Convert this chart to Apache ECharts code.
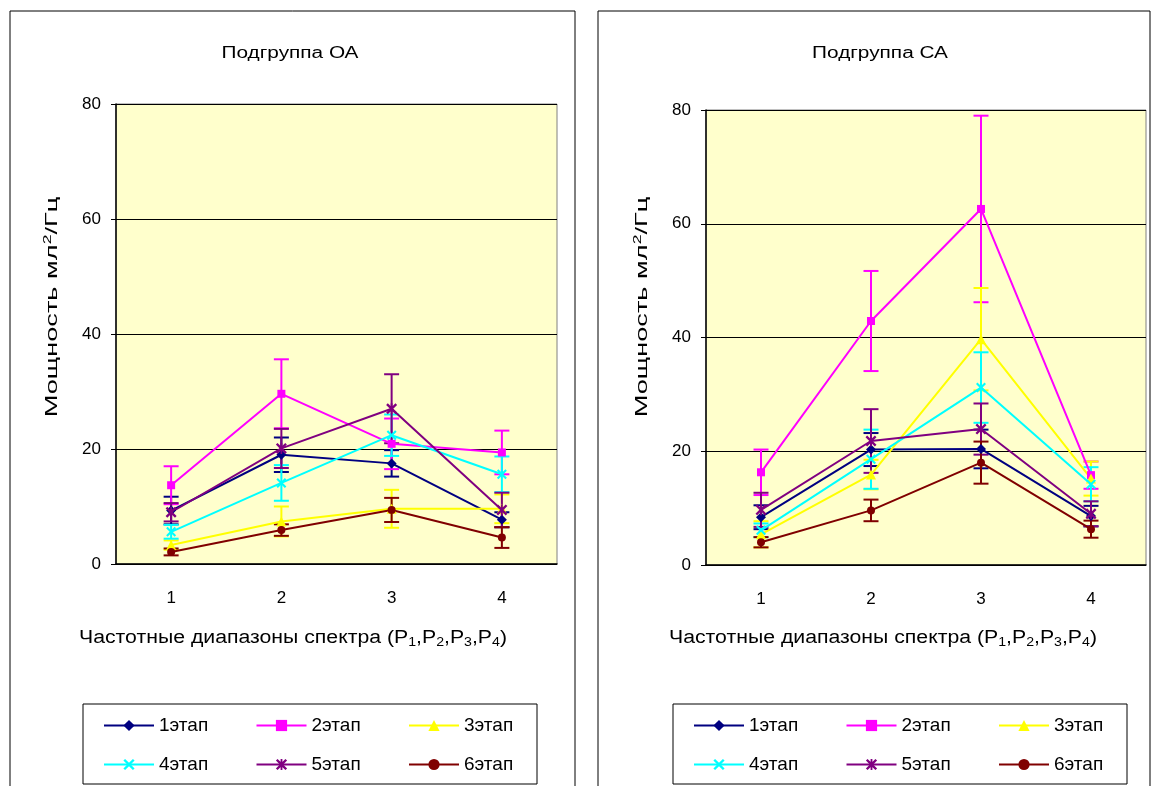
<!DOCTYPE html>
<html>
<head>
<meta charset="utf-8">
<script src="https://cdn.jsdelivr.net/npm/echarts@6/dist/echarts.min.js"></script>
<style>
  html, body { margin: 0; padding: 0; background: #fff; }
  #chart { width: 1155px; height: 786px; }
</style>
</head>
<body>
<div id="chart"></div>
<script>
// Frequency bands of the spectrum (P1..P4)
const categories = ['1', '2', '3', '4'];
const stageNames = ['1этап', '2этап', '3этап', '4этап', '5этап', '6этап'];
const yTicks = [0, 20, 40, 60, 80];

// Subgroup OA: mean power per band and its error
const oaMean1 = [9.3, 19.0, 17.5, 7.7];
const oaErr1  = [2.4, 3.0, 2.3, 1.3];
const oaMean2 = [13.7, 29.6, 20.9, 19.4];
const oaErr2  = [3.3, 6.0, 4.4, 3.8];
const oaMean3 = [3.3, 7.4, 9.6, 9.6];
const oaErr3  = [0.8, 2.6, 3.3, 2.5];
const oaMean4 = [5.6, 14.1, 22.4, 15.6];
const oaErr4  = [1.2, 3.1, 3.6, 3.1];
const oaMean5 = [9.0, 20.1, 27.0, 9.4];
const oaErr5  = [1.6, 3.4, 6.0, 3.0];
const oaMean6 = [2.1, 5.9, 9.4, 4.6];
const oaErr6  = [0.6, 1.0, 2.1, 1.8];

// Subgroup CA: mean power per band and its error
const caMean1 = [8.4, 20.3, 20.4, 8.6];
const caErr1  = [2.1, 2.9, 3.4, 1.8];
const caMean2 = [16.3, 42.9, 62.6, 15.8];
const caErr2  = [4.0, 8.8, 16.4, 2.4];
const caMean3 = [5.4, 15.9, 39.7, 15.2];
const caErr3  = [2.3, 2.6, 9.0, 3.0];
const caMean4 = [6.1, 18.6, 31.2, 14.2];
const caErr4  = [1.2, 5.2, 6.2, 3.0];
const caMean5 = [9.7, 21.8, 23.9, 9.0];
const caErr5  = [3.0, 5.6, 4.5, 2.2];
const caMean6 = [4.0, 9.6, 18.0, 6.3];
const caErr6  = [0.9, 1.9, 3.7, 1.5];

const oaMeans = [oaMean1, oaMean2, oaMean3, oaMean4, oaMean5, oaMean6];
const oaErrs  = [oaErr1, oaErr2, oaErr3, oaErr4, oaErr5, oaErr6];
const caMeans = [caMean1, caMean2, caMean3, caMean4, caMean5, caMean6];
const caErrs  = [caErr1, caErr2, caErr3, caErr4, caErr5, caErr6];

const FONT = '"Liberation Sans", Arial, sans-serif';
const colors = ['#000080', '#FF00FF', '#FFFF00', '#00FFFF', '#800080', '#800000'];
const xMark = 'path://M0,0.15 L0.15,0 L0.5,0.35 L0.85,0 L1,0.15 L0.65,0.5 L1,0.85 L0.85,1 L0.5,0.65 L0.15,1 L0,0.85 L0.35,0.5 Z';
const starMark = xMark + ' M0.42,0 L0.58,0 L0.58,1 L0.42,1 Z';
const symbols = ['diamond', 'rect', 'triangle', xMark, starMark, 'circle'];
const symbolSizes = [10, 8, 10, 10, 11, 8];

const panels = [
  { title: 'Подгруппа ОА', means: oaMeans, errs: oaErrs, grid: { left: 116, top: 104, width: 441, height: 460 }, dx: 0 },
  { title: 'Подгруппа СА', means: caMeans, errs: caErrs, grid: { left: 706, top: 110, width: 440, height: 455 }, dx: 590 }
];

function errorBars(color) {
  return function (params, api) {
    const x = api.value(0);
    const lo = api.coord([x, api.value(1)]);
    const hi = api.coord([x, api.value(2)]);
    const hw = 7.5;
    const st = { stroke: color, lineWidth: 2 };
    return {
      type: 'group',
      children: [
        { type: 'line', shape: { x1: lo[0], y1: lo[1], x2: hi[0], y2: hi[1] }, style: st },
        { type: 'line', shape: { x1: lo[0] - hw, y1: lo[1], x2: lo[0] + hw, y2: lo[1] }, style: st },
        { type: 'line', shape: { x1: hi[0] - hw, y1: hi[1], x2: hi[0] + hw, y2: hi[1] }, style: st }
      ]
    };
  };
}

const grids = [], xAxes = [], yAxes = [], series = [], legends = [], graphics = [];

panels.forEach((p, pi) => {
  grids.push(Object.assign({
    show: true, backgroundColor: '#FFFFCC', borderColor: '#808080', borderWidth: 1
  }, p.grid));
  xAxes.push({
    type: 'category', gridIndex: pi, data: categories, boundaryGap: true,
    axisLine: { lineStyle: { color: '#000', width: 1.5 } },
    axisTick: { length: 6, lineStyle: { color: '#000', width: 1.5 } },
    axisLabel: { color: '#000', fontSize: 17, fontFamily: FONT, margin: 26 },
    splitLine: { show: false }
  });
  yAxes.push({
    type: 'value', gridIndex: pi, min: yTicks[0], max: yTicks[yTicks.length - 1], interval: 20,
    axisLine: { show: true, lineStyle: { color: '#000', width: 1.5 } },
    axisTick: { show: true, length: 5, lineStyle: { color: '#000' } },
    axisLabel: { color: '#000', fontSize: 17, fontFamily: FONT, margin: 15 },
    splitLine: { show: true, lineStyle: { color: '#000', width: 1 } }
  });

  stageNames.forEach((name, si) => {
    series.push({
      type: 'custom', xAxisIndex: pi, yAxisIndex: pi, silent: true,
      renderItem: errorBars(colors[si]),
      encode: { x: 0, y: [1, 2] },
      data: p.means[si].map((m, ci) => [ci, m - p.errs[si][ci], m + p.errs[si][ci]]),
      z: 2
    });
    series.push({
      type: 'line', name: name, xAxisIndex: pi, yAxisIndex: pi,
      data: p.means[si],
      symbol: symbols[si], symbolSize: symbolSizes[si], showAllSymbol: true,
      lineStyle: { color: colors[si], width: 2 },
      itemStyle: { color: colors[si] },
      z: 3
    });
  });

  // legend: two rows of three entries inside a framed box
  stageNames.forEach((name, si) => {
    const col = si % 3, row = Math.floor(si / 3);
    legends.push({
      data: [name], left: 103 + p.dx + col * 152.5, top: 716 + row * 39,
      padding: 0, itemWidth: 50, itemHeight: 14, itemGap: 5, selectedMode: false,
      textStyle: { color: '#000', fontSize: 19, fontFamily: FONT }
    });
  });

  graphics.push(
    { type: 'rect', shape: { x: 10 + (pi ? 588 : 0), y: 11, width: pi ? 552 : 565, height: 800 },
      style: { fill: 'none', stroke: '#000', lineWidth: 1 }, z: 0 },
    { type: 'rect', shape: { x: 83 + p.dx, y: 704, width: 454, height: 80 },
      style: { fill: '#fff', stroke: '#000', lineWidth: 1 }, z: 0 },
    { type: 'text', x: 290 + p.dx, y: 54, scaleX: 1.3,
      style: { text: p.title, font: '16px ' + FONT, fill: '#000', align: 'center', verticalAlign: 'middle' } },
    { type: 'text', x: 52 + p.dx, y: 307, rotation: Math.PI / 2, scaleX: 1.6,
      style: {
        text: '{a|Мощность мл}{s|2}{a|/Гц}', align: 'center', verticalAlign: 'middle', fill: '#000',
        rich: {
          a: { fontSize: 17, fontFamily: FONT, lineHeight: 19, fill: '#000' },
          s: { fontSize: 11, fontFamily: FONT, lineHeight: 11, verticalAlign: 'top', fill: '#000' }
        }
      } },
    { type: 'text', x: 293 + p.dx, y: 638, scaleX: 1.18,
      style: {
        text: '{a|Частотные диапазоны спектра (P}{b|1}{a|,P}{b|2}{a|,P}{b|3}{a|,P}{b|4}{a|)}',
        align: 'center', verticalAlign: 'middle', fill: '#000',
        rich: {
          a: { fontSize: 18, fontFamily: FONT, lineHeight: 22, fill: '#000' },
          b: { fontSize: 12, fontFamily: FONT, lineHeight: 12, verticalAlign: 'bottom', fill: '#000' }
        }
      } }
  );
});

const chart = echarts.init(document.getElementById('chart'), null, { renderer: 'canvas' });
chart.setOption({
  backgroundColor: '#fff',
  animation: false,
  grid: grids,
  xAxis: xAxes,
  yAxis: yAxes,
  legend: legends,
  graphic: { elements: graphics },
  series: series
});
</script>
</body>
</html>
